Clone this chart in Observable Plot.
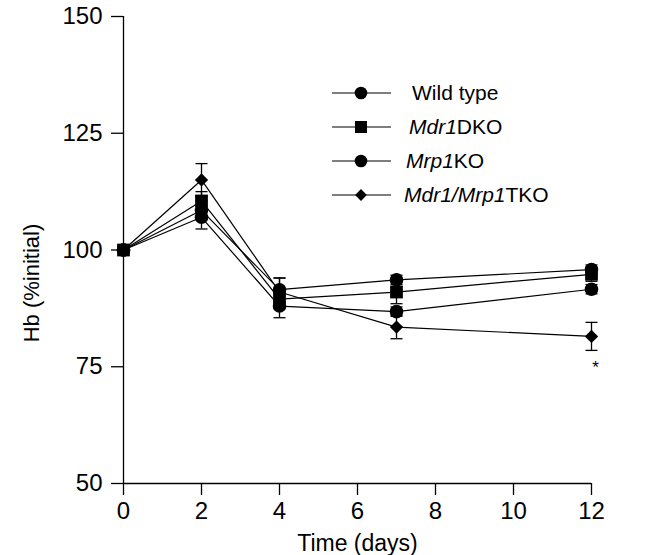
<!DOCTYPE html>
<html><head><meta charset="utf-8">
<script src="https://cdn.jsdelivr.net/npm/d3@7"></script>
<script src="https://cdn.jsdelivr.net/npm/@observablehq/plot@0.6"></script>
<style>
body{margin:0;background:#fff;}
#wrap{position:relative;width:658px;height:555px;font-family:"Liberation Sans",Arial,sans-serif;}
#wrap svg{display:block;}
#legend{position:absolute;left:0;top:0;pointer-events:none;}
</style></head><body><div id="wrap"></div>
<script>
// ---- data ----
const days = [0, 2, 4, 7, 12];
const seriesNames = ["Wild type", "Mdr1DKO", "Mrp1KO", "Mdr1/Mrp1TKO"];
const seriesSymbols = ["circle", "square", "circle", "diamond2"];
const wildType     = [100, 108.5, 91.5, 93.6, 95.8];
const wildTypeSD   = [0, 2.0, 2.5, 1.0, 1.0];
const mdr1DKO      = [100, 110.5, 89.5, 91.0, 94.8];
const mdr1DKOSD    = [0, 2.0, 2.0, 2.5, 1.5];
const mrp1KO       = [100, 107.0, 88.0, 86.8, 91.6];
const mrp1KOSD     = [0, 2.5, 2.5, 1.0, 1.0];
const tko          = [100, 115.0, 91.0, 83.5, 81.5];
const tkoSD        = [0, 3.5, 3.0, 2.5, 3.0];
const yTicks = [50, 75, 100, 125, 150];
const xTicks = [0, 2, 4, 6, 8, 10, 12];
const yLabel = "Hb (%initial)";
const xLabel = "Time (days)";
const legendItalic = ["", "Mdr1", "Mrp1", "Mdr1/Mrp1"];
const legendRoman  = ["Wild type", "DKO", "KO", "TKO"];
const significance = [{day: 12, series: "Mdr1/Mrp1TKO", mark: "*"}];

const valuesBySeries = [wildType, mdr1DKO, mrp1KO, tko];
const sdBySeries = [wildTypeSD, mdr1DKOSD, mrp1KOSD, tkoSD];
const rows = [];
seriesNames.forEach((s, i) => days.forEach((d, j) => rows.push({
  series: s, symbol: seriesSymbols[i], day: d,
  value: valuesBySeries[i][j], sd: sdBySeries[i][j]
})));
const sigRows = significance.map(s => {
  const r = rows.find(d => d.day === s.day && d.series === s.series);
  return {day: s.day, y: r.value - r.sd, mark: s.mark};
});
const withSD = rows.filter(d => d.sd > 0);

const capSymbol = {draw(ctx) { ctx.moveTo(-6, 0); ctx.lineTo(6, 0); }};
const dotsOf = (sym, r) => Plot.dot(rows.filter(d => d.symbol === sym),
  {x: "day", y: "value", symbol: sym, r, fill: "#000", stroke: "none"});

const font = "Liberation Sans, Arial, sans-serif";
const chart = Plot.plot({
  width: 658, height: 555,
  marginLeft: 123, marginRight: 67, marginTop: 16, marginBottom: 72,
  style: {fontFamily: font, fontSize: "24px", color: "#000", background: "#fff"},
  x: {domain: [0, 12]},
  y: {domain: [50, 150]},
  marks: [
    Plot.ruleX([0], {stroke: "#000", strokeWidth: 1.3}),
    Plot.ruleY([50], {stroke: "#000", strokeWidth: 1.3}),
    Plot.axisY({ticks: yTicks, tickSize: 12, tickPadding: 9, fontSize: 24, label: null, strokeWidth: 1.3}),
    Plot.axisX({ticks: xTicks, tickSize: 12, tickPadding: 6, fontSize: 24, label: null, strokeWidth: 1.3}),
    Plot.text([xLabel], {frameAnchor: "bottom", lineAnchor: "middle", dy: 60, fontSize: 23}),
    Plot.line(rows, {x: "day", y: "value", z: "series", stroke: "#000", strokeWidth: 1.2}),
    Plot.ruleX(withSD, {x: "day", y1: d => d.value - d.sd, y2: d => d.value + d.sd, stroke: "#000", strokeWidth: 1.3}),
    Plot.dot(withSD, {x: "day", y: d => d.value - d.sd, symbol: capSymbol, stroke: "#000", strokeWidth: 1.3, fill: "none", r: 4}),
    Plot.dot(withSD, {x: "day", y: d => d.value + d.sd, symbol: capSymbol, stroke: "#000", strokeWidth: 1.3, fill: "none", r: 4}),
    dotsOf("circle", 6.8),
    dotsOf("diamond2", 6.0),
    dotsOf("square", 7.2),
    Plot.text(sigRows, {x: "day", y: "y", text: "mark", dy: 17, dx: 4, fontSize: 17})
  ]
});
document.getElementById("wrap").appendChild(chart);

// ---- overlay: y-axis title and legend ----
const leg = d3.select("#wrap").append("svg").attr("id", "legend")
  .attr("width", 658).attr("height", 555);
leg.append("text").attr("transform", "translate(31,283) rotate(-90)")
  .attr("text-anchor", "middle").attr("dy", "0.35em")
  .attr("font-family", font).attr("font-size", 22).attr("fill", "#000").text(yLabel);
const rowY = [93, 127, 161, 195];
const symMap = {circle: d3.symbolCircle, square: d3.symbolSquare, diamond2: d3.symbolDiamond2};
const legSize = {circle: 6.3, square: 6.8, diamond2: 5.3};
seriesNames.forEach((s, i) => {
  const g = leg.append("g").attr("transform", `translate(0,${rowY[i]})`);
  g.append("line").attr("x1", 332).attr("x2", 391).attr("y1", 0).attr("y2", 0)
    .attr("stroke", "#000").attr("stroke-width", 1.2);
  const sym = seriesSymbols[i];
  g.append("path").attr("transform", "translate(361,0)")
    .attr("d", d3.symbol(symMap[sym], Math.PI * legSize[sym] ** 2)()).attr("fill", "#000");
  const t = g.append("text").attr("x", [412, 409, 406, 404][i]).attr("y", 0).attr("dy", "0.35em")
    .attr("font-family", font).attr("font-size", 21).attr("fill", "#000");
  if (legendItalic[i]) t.append("tspan").attr("font-style", "italic").text(legendItalic[i]);
  t.append("tspan").text(legendRoman[i]);
});
</script></body></html>
